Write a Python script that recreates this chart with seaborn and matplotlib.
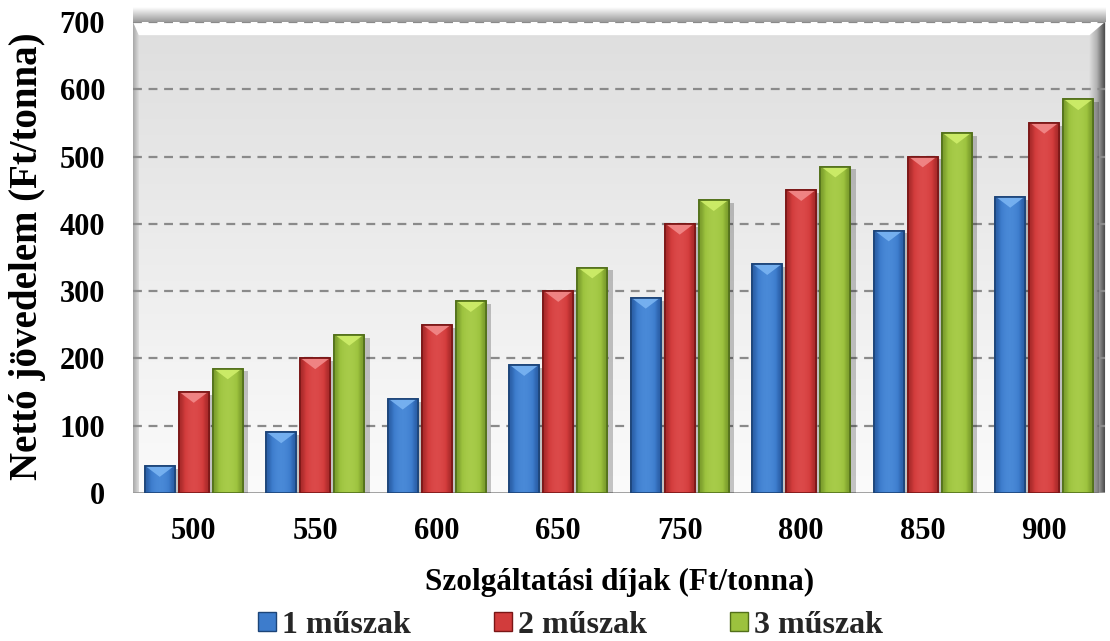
import numpy as np
import pandas as pd
import matplotlib
matplotlib.use("Agg")
import matplotlib.pyplot as plt
import seaborn as sns
from matplotlib.patches import Patch, Polygon
from matplotlib.colors import LinearSegmentedColormap
import matplotlib.patheffects as pe

# ---- data ----
fees = ["500", "550", "600", "650", "750", "800", "850", "900"]
series_names = ["1 műszak", "2 műszak", "3 műszak"]
shift1 = [40, 90, 140, 190, 290, 340, 390, 440]
shift2 = [150, 200, 250, 300, 400, 450, 500, 550]
shift3 = [185, 235, 285, 335, 435, 485, 535, 585]
y_ticks = [0, 100, 200, 300, 400, 500, 600, 700]
x_title = "Szolgáltatási díjak (Ft/tonna)"
y_title = "Nettó jövedelem (Ft/tonna)"

df = pd.DataFrame({
    "fee": fees * 3,
    "shift": [series_names[0]] * 8 + [series_names[1]] * 8 + [series_names[2]] * 8,
    "value": shift1 + shift2 + shift3,
})

colors = ["#3d7ccc", "#d23c3c", "#9cc23e"]
edges = ["#1c4478", "#7a1616", "#52701a"]
darks = ["#2a5ea6", "#a82a2a", "#7a9c2c"]
lights = ["#4a8ad8", "#dc4a4a", "#a8cc4a"]
caps = ["#7ab4f2", "#f28a8a", "#cfee6a"]

sns.set_theme(style="white")
plt.rcParams["font.family"] = ["Liberation Serif", "DejaVu Serif"]
plt.rcParams["font.weight"] = "bold"

fig = plt.figure(figsize=(11.10, 6.41), dpi=100)
ax = fig.add_axes([0.1198, 0.2309, 0.8757, 0.7348])

sns.barplot(data=df, x="fee", y="value", hue="shift", order=fees,
            hue_order=series_names, palette=colors, width=0.84, gap=0.12,
            legend=False, ax=ax, zorder=3, linewidth=1.2, saturation=1)

ax.set_yticks(y_ticks)
ax.set_yticklabels([str(v) for v in y_ticks])

# background gradient
ax.set_facecolor("none")
grad = np.linspace(0, 1, 256).reshape(-1, 1)
bg_cmap = LinearSegmentedColormap.from_list("bg", ["#fbfbfb", "#dedede"])
ax.imshow(grad, cmap=bg_cmap, extent=(0, 1, 0, 1), transform=ax.transAxes,
          aspect="auto", origin="lower", zorder=0)
# right-side shadow
sh = np.linspace(0, 1, 64).reshape(1, -1)
sh_cmap = LinearSegmentedColormap.from_list("sh", ["#e0e0e0", "#b0b0b0", "#4a4a4a"])
ax.imshow(sh, cmap=sh_cmap, extent=(0.984, 1.0, 0, 1), transform=ax.transAxes,
          aspect="auto", origin="lower", zorder=0.6)
# left edge shading
lf = np.linspace(0, 1, 32).reshape(1, -1)
lf_cmap = LinearSegmentedColormap.from_list("lf", ["#a8a8a8", "#dcdcdc"])
ax.imshow(lf, cmap=lf_cmap, extent=(0.0, 0.006, 0, 1), transform=ax.transAxes,
          aspect="auto", origin="lower", zorder=0.6)
# top bevel
ax.add_patch(Polygon([(0, 1), (1, 1), (0.984, 0.972), (0.006, 0.972)],
                     closed=True, transform=ax.transAxes, facecolor="#ffffff",
                     edgecolor="none", zorder=0.7))
# top shadow above the frame
ts = np.linspace(0, 1, 32).reshape(-1, 1)
ts_cmap = LinearSegmentedColormap.from_list("ts", ["#9a9a9a", "#ffffff"])
ax.imshow(ts, cmap=ts_cmap, extent=(0.0, 1.0, 1.0, 1.03), transform=ax.transAxes,
          aspect="auto", origin="lower", zorder=0.6, clip_on=False)

# grid
for v in y_ticks[1:]:
    ax.axhline(v, color="#8a8a8a", linestyle=(0, (4, 3)), linewidth=1.6, zorder=1)
ax.axhline(0, color="#9a9a9a", linewidth=2, zorder=1)

for sp in ax.spines.values():
    sp.set_visible(False)

# bar styling: shading gradient, shadow, bevelled cap
hgrad = np.array([[0.0, 0.55, 0.9, 1.0, 0.9, 0.6, 0.0]])
for i, cont in enumerate(ax.containers):
    cmap_i = LinearSegmentedColormap.from_list(f"b{i}", [darks[i], colors[i], lights[i]])
    for bar in cont:
        bar.set_edgecolor(edges[i])
        bar.set_path_effects([pe.SimplePatchShadow(offset=(4, -2), alpha=0.22, shadow_rgbFace="#000000"),
                              pe.Normal()])
        x0 = bar.get_x()
        w = bar.get_width()
        top = bar.get_height()
        im = ax.imshow(hgrad, cmap=cmap_i, vmin=0, vmax=1, extent=(x0, x0 + w, 0, top),
                       aspect="auto", interpolation="bicubic", zorder=3.5)
        im.set_clip_path(bar)
        d = min(16, top * 0.45)
        ax.add_patch(Polygon([(x0 + 0.012, top - 0.8), (x0 + w - 0.012, top - 0.8),
                              (x0 + w / 2, top - d)], closed=True,
                             facecolor=caps[i], edgecolor="none", alpha=0.9, zorder=4))
        ax.add_patch(Polygon(bar.get_path().vertices, closed=True, transform=bar.get_transform(),
                             facecolor="none", edgecolor=edges[i], linewidth=1.2, zorder=4.5))

ax.set_ylim(0, 700)
ax.set_xlim(-0.5, 7.5)

ax.tick_params(axis="both", length=0, labelsize=22)
ax.tick_params(axis="y", pad=20)
ax.tick_params(axis="x", pad=17)
for lab in ax.get_xticklabels() + ax.get_yticklabels():
    lab.set_fontweight("bold")
    lab.set_color("black")

ax.set_xlabel(x_title, fontsize=22.5, fontweight="bold", color="black")
ax.set_ylabel(y_title, fontsize=28, fontweight="bold", color="black")
ax.xaxis.set_label_coords(0.501, -0.16)
ax.yaxis.set_label_coords(-0.089, 0.503)

handles = [Patch(facecolor=colors[i], edgecolor=edges[i], label=series_names[i]) for i in range(3)]
fig.legend(handles=handles, loc="center", bbox_to_anchor=(0.514, 0.024), ncol=3,
           frameon=False, prop={"size": 23, "weight": "bold"},
           handlelength=0.55, handleheight=0.55, handletextpad=0.2, columnspacing=2.6)

fig.savefig("out.png", dpi=100)
